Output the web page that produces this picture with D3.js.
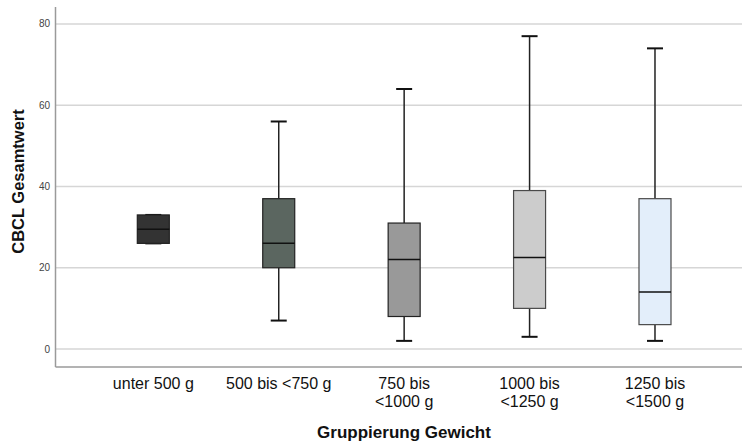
<!DOCTYPE html>
<html>
<head>
<meta charset="utf-8">
<script src="https://cdn.jsdelivr.net/npm/d3@7"></script>
<style>
  body { margin: 0; background: #fff; }
  text { font-family: Arial, "Liberation Sans", sans-serif; }
</style>
</head>
<body>
<div id="chart"></div>
<script>
// data
var categories = ["unter 500 g", "500 bis <750 g", "750 bis\n<1000 g", "1000 bis\n<1250 g", "1250 bis\n<1500 g"];
var whiskerLow  = [26, 7, 2, 3, 2];
var q1          = [26, 20, 8, 10, 6];
var median      = [29.5, 26, 22, 22.5, 14];
var q3          = [33, 37, 31, 39, 37];
var whiskerHigh = [33, 56, 64, 77, 74];
var boxColors   = ["#333333", "#5b6660", "#999999", "#cccccc", "#e3eefa"];
var yTicks      = [0, 20, 40, 60, 80];

var width = 742, height = 443;
var plotLeft = 55.5, plotTop = 7, plotBottom = 367;

var svg = d3.select("#chart")
  .append("svg")
    .attr("width", width)
    .attr("height", height);

var rows = categories.map(function(c, i) {
  return {cat: c, lo: whiskerLow[i], q1: q1[i], med: median[i], q3: q3[i], hi: whiskerHigh[i], fill: boxColors[i]};
});

var x = d3.scaleBand()
    .domain(categories)
    .range([90.6, 717.7])
    .padding(0);

var y = d3.scaleLinear()
    .domain([-4.43, 84.18])
    .range([plotBottom, plotTop]);

// gridlines
svg.append("g")
  .selectAll("line")
  .data(yTicks)
  .enter()
  .append("line")
    .attr("x1", plotLeft)
    .attr("x2", width)
    .attr("y1", function(d) { return y(d); })
    .attr("y2", function(d) { return y(d); })
    .attr("stroke", "#d6d6d6")
    .attr("stroke-width", 1.5);

// y tick labels
svg.append("g")
  .selectAll("text")
  .data(yTicks)
  .enter()
  .append("text")
    .attr("x", 50)
    .attr("y", function(d) { return y(d); })
    .attr("dy", "0.35em")
    .attr("text-anchor", "end")
    .style("font-size", "10px")
    .style("fill", "#444")
    .text(function(d) { return d; });

// axis lines
svg.append("line")
    .attr("x1", plotLeft).attr("x2", plotLeft)
    .attr("y1", plotTop).attr("y2", plotBottom)
    .attr("stroke", "#9a9a9a").attr("stroke-width", 1.5);
svg.append("line")
    .attr("x1", plotLeft).attr("x2", width)
    .attr("y1", plotBottom).attr("y2", plotBottom)
    .attr("stroke", "#9a9a9a").attr("stroke-width", 1.5);

var boxW = 32, capW = 16;
var groups = svg.append("g")
  .selectAll("g")
  .data(rows)
  .enter()
  .append("g")
    .attr("transform", function(d) { return "translate(" + (x(d.cat) + x.bandwidth() / 2) + ",0)"; });

// whiskers
groups.append("line")
    .attr("x1", 0).attr("x2", 0)
    .attr("y1", function(d) { return y(d.hi); })
    .attr("y2", function(d) { return y(d.q3); })
    .attr("stroke", "#222").attr("stroke-width", 1.5);
groups.append("line")
    .attr("x1", 0).attr("x2", 0)
    .attr("y1", function(d) { return y(d.q1); })
    .attr("y2", function(d) { return y(d.lo); })
    .attr("stroke", "#222").attr("stroke-width", 1.5);

// caps
groups.selectAll("line.cap")
  .data(function(d) { return [d.lo, d.hi]; })
  .enter()
  .append("line")
    .attr("class", "cap")
    .attr("x1", -capW / 2).attr("x2", capW / 2)
    .attr("y1", function(v) { return y(v); })
    .attr("y2", function(v) { return y(v); })
    .attr("stroke", "#111").attr("stroke-width", 2);

// boxes
groups.append("rect")
    .attr("x", -boxW / 2)
    .attr("width", boxW)
    .attr("y", function(d) { return y(d.q3); })
    .attr("height", function(d) { return y(d.q1) - y(d.q3); })
    .attr("fill", function(d) { return d.fill; })
    .attr("stroke", function(d, i) { return i < 3 ? "#222" : "#4a4a4a"; })
    .attr("stroke-width", 1.2);

// medians
groups.append("line")
    .attr("x1", -boxW / 2).attr("x2", boxW / 2)
    .attr("y1", function(d) { return y(d.med); })
    .attr("y2", function(d) { return y(d.med); })
    .attr("stroke", "#111").attr("stroke-width", 1.5);

// x category labels
var labels = svg.append("g")
  .selectAll("text")
  .data(categories)
  .enter()
  .append("text")
    .attr("text-anchor", "middle")
    .attr("y", 388.5)
    .style("font-size", "16px")
    .style("fill", "#111");
labels.selectAll("tspan")
  .data(function(d) { return d.split("\n").map(function(t) { return {t: t, c: d}; }); })
  .enter()
  .append("tspan")
    .attr("x", function(d) { return x(d.c) + x.bandwidth() / 2; })
    .attr("dy", function(d, i) { return i === 0 ? 0 : 18; })
    .text(function(d) { return d.t; });

// axis titles
svg.append("text")
    .attr("x", 404)
    .attr("y", 438)
    .attr("text-anchor", "middle")
    .style("font-size", "17px")
    .style("font-weight", "bold")
    .style("fill", "#111")
    .text("Gruppierung Gewicht");

svg.append("text")
    .attr("transform", "translate(24,181.5) rotate(-90)")
    .attr("text-anchor", "middle")
    .style("font-size", "16.5px")
    .style("font-weight", "bold")
    .style("fill", "#111")
    .text("CBCL Gesamtwert");
</script>
</body>
</html>
